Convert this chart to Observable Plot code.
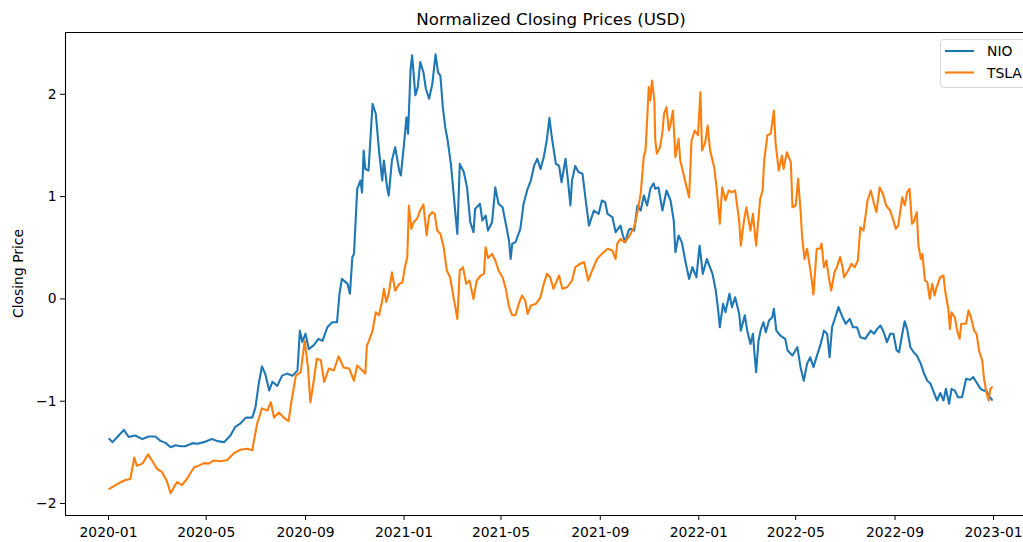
<!DOCTYPE html>
<html>
<head>
<meta charset="utf-8">
<script src="https://cdn.jsdelivr.net/npm/d3@7"></script>
<script src="https://cdn.jsdelivr.net/npm/@observablehq/plot@0.6"></script>
<style>
html, body { margin: 0; padding: 0; background: #fff; overflow: hidden; width: 1023px; height: 542px; }
#chart svg { display: block; }
</style>
</head>
<body>
<div id="chart"></div>
<script>
// ---- data ----
const title = "Normalized Closing Prices (USD)";
const yLabel = "Closing Price";
const seriesNames = ["NIO", "TSLA"];
const seriesColors = ["#1f77b4", "#ff7f0e"];

const xTickDates = ["2020-01-01","2020-05-01","2020-09-01","2021-01-01","2021-05-01","2021-09-01","2022-01-01","2022-05-01","2022-09-01","2023-01-01"];
const yTickValues = [-2, -1, 0, 1, 2];

const nioDates = [
"2020-01-02","2020-01-06","2020-01-12","2020-01-20","2020-01-26","2020-02-03","2020-02-12","2020-02-20","2020-02-28","2020-03-05",
"2020-03-12","2020-03-18","2020-03-24","2020-03-30","2020-04-05","2020-04-14","2020-04-20","2020-04-28","2020-05-08","2020-05-15",
"2020-05-23","2020-05-31","2020-06-06","2020-06-12","2020-06-19","2020-06-27","2020-07-01","2020-07-05","2020-07-09","2020-07-13",
"2020-07-18","2020-07-22","2020-07-28","2020-08-03","2020-08-09","2020-08-16","2020-08-22","2020-08-25","2020-08-28","2020-09-01",
"2020-09-05","2020-09-11","2020-09-17","2020-09-22","2020-09-28","2020-10-04","2020-10-10","2020-10-13","2020-10-16","2020-10-23",
"2020-10-26","2020-10-29","2020-10-31","2020-11-04","2020-11-08","2020-11-10","2020-11-12","2020-11-14","2020-11-18","2020-11-23",
"2020-11-27","2020-12-01","2020-12-05","2020-12-07","2020-12-11","2020-12-13","2020-12-17","2020-12-21","2020-12-26","2020-12-28",
"2021-01-01","2021-01-04","2021-01-06","2021-01-09","2021-01-11","2021-01-15","2021-01-18","2021-01-21","2021-01-25","2021-01-28",
"2021-02-01","2021-02-05","2021-02-09","2021-02-12","2021-02-15","2021-02-18","2021-02-21","2021-02-24","2021-02-28","2021-03-03",
"2021-03-06","2021-03-08","2021-03-11","2021-03-16","2021-03-20","2021-03-24","2021-03-28","2021-03-30","2021-04-05","2021-04-08",
"2021-04-12","2021-04-15","2021-04-20","2021-04-24","2021-04-28","2021-05-03","2021-05-07","2021-05-11","2021-05-13","2021-05-15",
"2021-05-19","2021-05-25","2021-05-29","2021-06-03","2021-06-07","2021-06-11","2021-06-15","2021-06-19","2021-06-23","2021-06-27",
"2021-06-30","2021-07-03","2021-07-08","2021-07-12","2021-07-15","2021-07-20","2021-07-23","2021-07-26","2021-07-28","2021-08-01",
"2021-08-05","2021-08-10","2021-08-14","2021-08-18","2021-08-24","2021-08-30","2021-09-03","2021-09-07","2021-09-10","2021-09-16",
"2021-09-20","2021-09-26","2021-09-29","2021-10-02","2021-10-06","2021-10-08","2021-10-13","2021-10-17","2021-10-21","2021-10-25",
"2021-10-29","2021-11-02","2021-11-06","2021-11-08","2021-11-12","2021-11-17","2021-11-22","2021-11-27","2021-12-01","2021-12-03",
"2021-12-07","2021-12-11","2021-12-16","2021-12-20","2021-12-24","2021-12-29","2022-01-02","2022-01-06","2022-01-11","2022-01-18",
"2022-01-22","2022-01-25","2022-01-27","2022-01-31","2022-02-03","2022-02-08","2022-02-11","2022-02-15","2022-02-20","2022-02-22",
"2022-02-27","2022-03-02","2022-03-06","2022-03-09","2022-03-11","2022-03-13","2022-03-16","2022-03-19","2022-03-22","2022-03-25",
"2022-03-29","2022-04-02","2022-04-04","2022-04-07","2022-04-12","2022-04-18","2022-04-21","2022-04-27","2022-05-03","2022-05-07",
"2022-05-11","2022-05-15","2022-05-19","2022-05-23","2022-05-28","2022-06-01","2022-06-05","2022-06-09","2022-06-12","2022-06-15",
"2022-06-19","2022-06-23","2022-06-28","2022-07-02","2022-07-07","2022-07-11","2022-07-16","2022-07-20","2022-07-26","2022-08-02",
"2022-08-06","2022-08-10","2022-08-14","2022-08-18","2022-08-22","2022-08-26","2022-08-30","2022-09-03","2022-09-06","2022-09-10",
"2022-09-13","2022-09-16","2022-09-20","2022-09-24","2022-09-28","2022-10-03","2022-10-07","2022-10-11","2022-10-15","2022-10-19",
"2022-10-23","2022-10-27","2022-10-31","2022-11-03","2022-11-07","2022-11-10","2022-11-14","2022-11-18","2022-11-23","2022-11-28",
"2022-12-03","2022-12-07","2022-12-12","2022-12-16","2022-12-20","2022-12-23","2022-12-26","2022-12-30"];
const nioValues = [
-1.368,-1.40,-1.35,-1.28,-1.35,-1.335,-1.37,-1.345,-1.345,-1.385,
-1.41,-1.45,-1.43,-1.44,-1.44,-1.41,-1.415,-1.40,-1.37,-1.39,
-1.40,-1.335,-1.25,-1.22,-1.16,-1.16,-1.06,-0.83,-0.66,-0.73,
-0.895,-0.81,-0.85,-0.75,-0.73,-0.75,-0.70,-0.31,-0.42,-0.34,
-0.49,-0.455,-0.39,-0.41,-0.277,-0.228,-0.228,0.05,0.196,0.147,
0.05,0.41,0.44,1.076,1.157,1.04,1.45,1.27,1.255,1.907,
1.81,1.45,1.157,1.353,1.09,1.01,1.353,1.483,1.255,1.206,
1.516,1.776,1.614,2.233,2.38,1.99,2.07,2.314,2.216,2.054,
1.956,2.10,2.39,2.216,2.18,1.874,1.678,1.548,1.32,1.06,
0.80,0.636,1.32,1.24,1.09,0.75,0.652,0.88,0.93,0.766,
0.815,0.668,0.75,1.09,0.93,0.896,0.734,0.57,0.39,0.54,
0.554,0.685,0.93,1.076,1.157,1.30,1.37,1.27,1.385,1.565,
1.77,1.58,1.32,1.30,1.14,1.37,1.157,0.913,1.157,1.30,
1.24,1.223,0.962,0.717,0.864,0.832,0.962,0.945,0.832,0.80,
0.652,0.717,0.62,0.554,0.668,0.685,0.668,0.913,0.864,1.01,
0.913,1.076,1.13,1.076,1.09,0.864,1.06,0.962,0.766,0.456,
0.62,0.554,0.343,0.196,0.31,0.212,0.52,0.245,0.39,0.245,
0.082,-0.113,-0.277,-0.048,-0.13,0.05,-0.08,0.016,-0.146,-0.31,
-0.16,-0.31,-0.44,-0.34,-0.537,-0.716,-0.406,-0.293,-0.228,-0.326,
-0.21,-0.179,-0.097,-0.31,-0.358,-0.39,-0.504,-0.553,-0.472,-0.667,
-0.80,-0.635,-0.57,-0.667,-0.537,-0.439,-0.31,-0.341,-0.57,-0.277,
-0.179,-0.08,-0.179,-0.243,-0.195,-0.277,-0.277,-0.374,-0.39,-0.31,
-0.341,-0.293,-0.26,-0.326,-0.423,-0.341,-0.341,-0.504,-0.521,-0.341,
-0.218,-0.293,-0.472,-0.521,-0.553,-0.635,-0.732,-0.80,-0.83,-0.912,
-0.993,-0.92,-0.993,-0.879,-1.025,-0.879,-0.896,-0.961,-0.961,-0.781,
-0.79,-0.765,-0.83,-0.879,-0.896,-0.896,-0.944,-0.986];

const tslaDates = [
"2020-01-02","2020-01-14","2020-01-22","2020-01-28","2020-02-02","2020-02-05","2020-02-12","2020-02-19","2020-02-24","2020-03-01",
"2020-03-07","2020-03-13","2020-03-18","2020-03-22","2020-03-26","2020-04-01","2020-04-07","2020-04-16","2020-04-22","2020-04-28",
"2020-05-04","2020-05-10","2020-05-19","2020-05-27","2020-06-04","2020-06-12","2020-06-21","2020-06-27","2020-07-03","2020-07-09",
"2020-07-16","2020-07-20","2020-07-24","2020-07-30","2020-08-05","2020-08-11","2020-08-14","2020-08-20","2020-08-26","2020-08-31",
"2020-09-04","2020-09-07","2020-09-11","2020-09-15","2020-09-20","2020-09-24","2020-09-30","2020-10-06","2020-10-12","2020-10-18",
"2020-10-25","2020-10-31","2020-11-04","2020-11-08","2020-11-14","2020-11-16","2020-11-18","2020-11-23","2020-11-27","2020-12-01",
"2020-12-05","2020-12-07","2020-12-10","2020-12-13","2020-12-17","2020-12-21","2020-12-26","2020-12-30","2021-01-02","2021-01-05",
"2021-01-07","2021-01-10","2021-01-13","2021-01-17","2021-01-21","2021-01-25","2021-01-29","2021-02-01","2021-02-05","2021-02-08",
"2021-02-11","2021-02-15","2021-02-19","2021-02-23","2021-02-27","2021-03-04","2021-03-08","2021-03-11","2021-03-15","2021-03-19",
"2021-03-23","2021-03-28","2021-04-01","2021-04-06","2021-04-10","2021-04-12","2021-04-15","2021-04-20","2021-04-24","2021-04-28",
"2021-05-03","2021-05-07","2021-05-11","2021-05-15","2021-05-19","2021-05-23","2021-05-27","2021-05-31","2021-06-03","2021-06-07",
"2021-06-13","2021-06-19","2021-06-23","2021-06-27","2021-07-01","2021-07-05","2021-07-12","2021-07-16","2021-07-22","2021-07-28",
"2021-08-01","2021-08-07","2021-08-12","2021-08-17","2021-08-22","2021-08-28","2021-09-03","2021-09-10","2021-09-16","2021-09-20",
"2021-09-22","2021-09-26","2021-10-01","2021-10-06","2021-10-13","2021-10-17","2021-10-21","2021-10-25","2021-10-27","2021-10-29",
"2021-10-31","2021-11-02","2021-11-04","2021-11-07","2021-11-08","2021-11-10","2021-11-14","2021-11-17","2021-11-19","2021-11-22",
"2021-11-25","2021-11-27","2021-11-30","2021-12-03","2021-12-07","2021-12-09","2021-12-13","2021-12-17","2021-12-20","2021-12-23",
"2021-12-27","2021-12-31","2022-01-03","2022-01-05","2022-01-09","2022-01-12","2022-01-15","2022-01-20","2022-01-23","2022-01-27",
"2022-01-30","2022-02-03","2022-02-07","2022-02-11","2022-02-15","2022-02-20","2022-02-22","2022-02-26","2022-03-01","2022-03-06",
"2022-03-09","2022-03-13","2022-03-18","2022-03-21","2022-03-23","2022-03-27","2022-03-31","2022-04-04","2022-04-06","2022-04-10",
"2022-04-14","2022-04-16","2022-04-20","2022-04-25","2022-04-27","2022-05-01","2022-05-04","2022-05-07","2022-05-09","2022-05-12",
"2022-05-15","2022-05-18","2022-05-21","2022-05-23","2022-05-27","2022-05-31","2022-06-02","2022-06-05","2022-06-08","2022-06-11",
"2022-06-14","2022-06-18","2022-06-21","2022-06-25","2022-06-28","2022-06-30","2022-07-05","2022-07-09","2022-07-13","2022-07-17",
"2022-07-20","2022-07-24","2022-07-29","2022-08-02","2022-08-06","2022-08-09","2022-08-13","2022-08-17","2022-08-21","2022-08-26",
"2022-08-30","2022-09-02","2022-09-05","2022-09-10","2022-09-13","2022-09-16","2022-09-19","2022-09-22","2022-09-24","2022-09-28",
"2022-09-30","2022-10-03","2022-10-05","2022-10-08","2022-10-11","2022-10-14","2022-10-17","2022-10-20","2022-10-22","2022-10-27",
"2022-10-31","2022-11-02","2022-11-06","2022-11-08","2022-11-10","2022-11-14","2022-11-17","2022-11-20","2022-11-22","2022-11-28",
"2022-12-01","2022-12-04","2022-12-08","2022-12-11","2022-12-14","2022-12-18","2022-12-20","2022-12-23","2022-12-26","2022-12-28",
"2022-12-30"];
const tslaValues = [
-1.856,-1.80,-1.77,-1.76,-1.55,-1.63,-1.61,-1.52,-1.58,-1.66,
-1.69,-1.775,-1.90,-1.84,-1.79,-1.82,-1.76,-1.645,-1.63,-1.605,
-1.61,-1.58,-1.587,-1.575,-1.51,-1.475,-1.465,-1.48,-1.22,-1.07,
-1.09,-1.01,-1.16,-1.11,-1.16,-1.195,-1.03,-0.75,-0.716,-0.41,
-0.67,-1.01,-0.81,-0.585,-0.60,-0.81,-0.68,-0.70,-0.56,-0.67,
-0.68,-0.80,-0.65,-0.68,-0.73,-0.455,-0.42,-0.31,-0.13,-0.16,
-0.016,0.10,-0.03,0.05,0.26,0.08,0.147,0.16,0.31,0.41,
0.913,0.685,0.75,0.783,0.864,0.923,0.62,0.815,0.848,0.832,
0.668,0.636,0.505,0.278,0.212,-0.016,-0.195,0.278,0.31,0.147,
0.18,0.0,0.18,0.229,0.245,0.505,0.40,0.44,0.375,0.278,
0.212,0.10,-0.08,-0.16,-0.16,-0.05,0.033,-0.016,-0.146,-0.065,
-0.05,0.016,0.147,0.245,0.212,0.10,0.229,0.10,0.114,0.18,
0.31,0.343,0.36,0.18,0.278,0.39,0.44,0.49,0.473,0.39,
0.54,0.587,0.554,0.603,0.70,0.848,1.027,1.40,1.45,1.744,
2.07,1.94,2.135,1.94,1.565,1.42,1.483,1.63,1.81,1.874,
1.646,1.71,1.84,1.385,1.565,1.353,1.223,1.09,0.994,1.548,
1.646,1.60,2.02,1.45,1.532,1.695,1.45,1.29,1.09,0.734,
1.09,0.962,1.06,1.043,1.06,0.766,0.52,0.766,0.896,0.668,
0.832,0.52,0.978,1.06,1.353,1.60,1.614,1.84,1.532,1.255,
1.40,1.27,1.434,1.336,0.896,0.913,1.174,0.864,0.603,0.39,
0.49,0.343,0.18,0.043,0.49,0.49,0.54,0.31,0.375,0.212,
0.082,0.26,0.31,0.41,0.31,0.212,0.278,0.343,0.31,0.375,
0.70,0.668,0.962,1.06,0.93,0.848,1.09,1.027,0.913,0.864,
0.766,0.685,0.717,0.994,0.913,1.043,1.076,0.734,0.75,0.848,
0.52,0.39,0.44,0.18,0.163,0.0,0.147,0.033,0.10,0.212,
0.229,0.082,-0.097,-0.293,-0.13,-0.179,-0.31,-0.39,-0.243,-0.243,
-0.113,-0.179,-0.31,-0.341,-0.504,-0.602,-0.765,-0.912,-0.993,-0.88,
-0.863];

// ---- build table ----
const parse = d3.utcParse("%Y-%m-%d");
const nio = nioDates.map((d, i) => ({date: parse(d), value: nioValues[i], series: "NIO"}));
const tsla = tslaDates.map((d, i) => ({date: parse(d), value: tslaValues[i], series: "TSLA"}));
const xTicks = xTickDates.map(parse);

// ---- layout ----
const W = 1023, H = 542;
const mLeft = 65, mTop = 32, mBottom = 27, mRight = 0;
const day = 864e5;
const t0 = Date.UTC(2020, 0, 1);
const xDomain = [new Date(t0 - 53.25 * day), new Date(t0 + 1133.1 * day)];
const yDomain = [-2.117, 2.604];

const chart = Plot.plot({
  width: W,
  height: H,
  marginLeft: mLeft,
  marginRight: mRight,
  marginTop: mTop,
  marginBottom: mBottom,
  style: {fontFamily: "'DejaVu Sans', sans-serif", fontSize: "13.9px", background: "#fff", color: "#000", overflow: "hidden"},
  x: {type: "utc", domain: xDomain},
  y: {domain: yDomain},
  marks: [
    Plot.line(nio, {x: "date", y: "value", stroke: seriesColors[0], strokeWidth: 2.1}),
    Plot.line(tsla, {x: "date", y: "value", stroke: seriesColors[1], strokeWidth: 2.1}),
    Plot.ruleY([yDomain[0], yDomain[1]], {stroke: "#000", strokeWidth: 1.1}),
    Plot.ruleX([xDomain[0]], {stroke: "#000", strokeWidth: 1.1}),
    Plot.axisX({ticks: xTicks, tickFormat: d3.utcFormat("%Y-%m"), tickSize: 5, tickPadding: 7, label: null, stroke: "#000"}),
    Plot.axisY({ticks: yTickValues, tickFormat: d3.format("d"), tickSize: 5, tickPadding: 4, label: null, stroke: "#000"})
  ]
});
document.getElementById("chart").appendChild(chart);

// ---- title, y label, legend ----
const svg = d3.select(chart);
svg.append("text")
  .attr("x", 551).attr("y", 25)
  .attr("text-anchor", "middle")
  .attr("font-size", "16.7px")
  .attr("fill", "#000")
  .text(title);

svg.append("text")
  .attr("transform", `translate(23, ${(mTop + H - mBottom) / 2}) rotate(-90)`)
  .attr("text-anchor", "middle")
  .attr("font-size", "13.9px")
  .attr("fill", "#000")
  .text(yLabel);

const lg = svg.append("g");
lg.append("rect")
  .attr("x", 940.5).attr("y", 39.5).attr("width", 110).attr("height", 48)
  .attr("rx", 3).attr("fill", "#fff").attr("fill-opacity", 0.8)
  .attr("stroke", "#d6d6d6").attr("stroke-width", 1);
seriesNames.forEach((name, i) => {
  const yy = 51 + i * 21.5;
  lg.append("line").attr("x1", 945).attr("x2", 974).attr("y1", yy).attr("y2", yy)
    .attr("stroke", seriesColors[i]).attr("stroke-width", 2.1);
  lg.append("text").attr("x", 987).attr("y", yy + 5)
    .attr("text-anchor", "start")
    .attr("font-size", "13.9px").attr("fill", "#000").text(name);
});
</script>
</body>
</html>
